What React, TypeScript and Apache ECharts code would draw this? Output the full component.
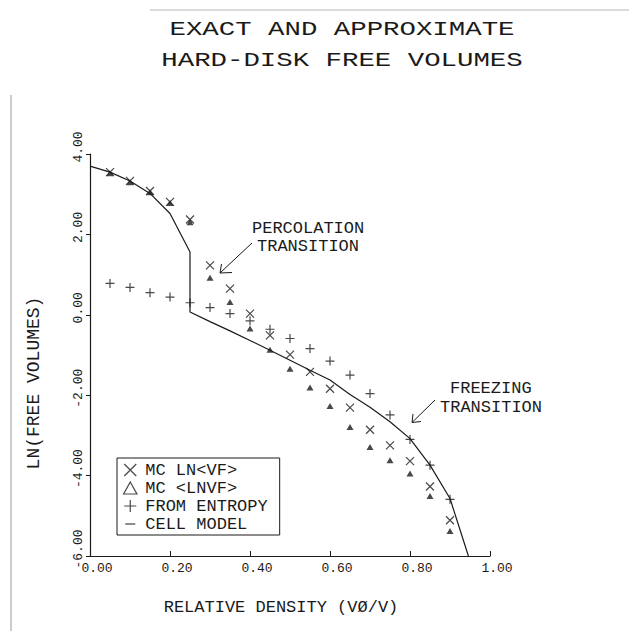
import React, { useEffect, useRef } from "react";
import * as echarts from "echarts";

// Relative density (V0/V) at which the Monte Carlo / entropy points were taken
const densities = [0.05, 0.10, 0.15, 0.20, 0.25, 0.30, 0.35, 0.40, 0.45, 0.50, 0.55, 0.60, 0.65, 0.70, 0.75, 0.80, 0.85, 0.90];
// MC LN<VF>  (x markers)
const mcLnMean = [3.55, 3.33, 3.08, 2.81, 2.37, 1.23, 0.65, 0.03, -0.51, -0.99, -1.42, -1.84, -2.31, -2.86, -3.25, -3.64, -4.27, -5.11];
// MC <LNVF>  (filled triangles)
const mcMeanLn = [3.52, 3.30, 3.05, 2.78, 2.30, 0.92, 0.32, -0.34, -0.87, -1.34, -1.81, -2.27, -2.79, -3.29, -3.62, -3.95, -4.51, -5.38];
// FROM ENTROPY (+ markers)
const fromEntropy = [0.78, 0.68, 0.55, 0.44, 0.30, 0.18, 0.03, -0.15, -0.36, -0.59, -0.84, -1.15, -1.50, -1.96, -2.49, -3.10, -3.74, -4.59];
// CELL MODEL (line)
const cellX = [0, 0.05, 0.10, 0.15, 0.20, 0.25, 0.25, 0.30, 0.35, 0.40, 0.45, 0.50, 0.55, 0.60, 0.65, 0.70, 0.75, 0.80, 0.85, 0.90, 0.946];
const cellY = [3.70, 3.55, 3.33, 3.02, 2.52, 1.56, 0.07, -0.17, -0.40, -0.64, -0.88, -1.13, -1.38, -1.62, -1.98, -2.30, -2.66, -3.08, -3.74, -4.57, -6.00];

const titleLines = ["EXACT AND APPROXIMATE", "HARD-DISK FREE VOLUMES"];
const seriesNames = ["MC LN<VF>", "MC <LNVF>", "FROM ENTROPY", "CELL MODEL"];

const FONT = "'Liberation Mono', 'DejaVu Sans Mono', monospace";
const INK = "#1a1a1a";

const X_PATH = "path://M0,0L10,10M10,0L0,10";
const PLUS_PATH = "path://M5,0L5,10M0,5L10,5";
const TRI_PATH = "path://M5,0L10,9L0,9Z";
const DASH_PATH = "path://M1,5.5L11,5.5L11,6.5L1,6.5Z M0,0L0.01,0L0.01,0.01Z M11.99,11.99L12,11.99L12,12Z";

export default function App() {
  const ref = useRef<HTMLDivElement>(null);

  useEffect(() => {
    if (!ref.current) return;
    const chart = echarts.init(ref.current, null, { renderer: "svg" });

    const pair = (ys: number[]) => densities.map((d, i) => [d, ys[i]]);
    const strokeStyle = { color: "transparent", borderColor: INK, borderWidth: 1.2 };
    const note = (text: string, x: number, y: number) => ({
      type: "text", x, y,
      style: { text, font: `17px ${FONT}`, lineHeight: 16, fill: INK, align: "left", verticalAlign: "middle" },
    });
    const seg = (x1: number, y1: number, x2: number, y2: number) => ({
      type: "line", shape: { x1, y1, x2, y2 }, style: { stroke: INK, lineWidth: 1 },
    });

    chart.setOption({
      animation: false,
      backgroundColor: "#ffffff",
      grid: { left: 90, top: 154, width: 400, height: 402, containLabel: false },
      xAxis: {
        type: "value",
        min: 0,
        max: 1,
        interval: 0.2,
        name: "RELATIVE DENSITY (VØ/V)",
        nameLocation: "middle",
        nameGap: 43,
        nameTextStyle: { fontFamily: FONT, fontSize: 17, color: INK, padding: [0, 18, 0, 0] },
        axisLine: { show: true, onZero: false, lineStyle: { color: INK, width: 1.2 } },
        axisTick: { show: true, inside: true, length: 5, lineStyle: { color: INK } },
        axisLabel: {
          fontFamily: FONT, fontSize: 13, color: INK, margin: 6,
          padding: [0, 0, 0, 14],
          formatter: (v: number) => v.toFixed(2),
        },
        splitLine: { show: false },
      },
      yAxis: {
        type: "value",
        min: -6,
        max: 4,
        interval: 2,
        name: "LN(FREE VOLUMES)",
        nameLocation: "middle",
        nameRotate: 90,
        nameGap: 47,
        nameTextStyle: { fontFamily: FONT, fontSize: 18, color: INK, padding: [0, 56, 0, 0] },
        axisLine: { show: true, onZero: false, lineStyle: { color: INK, width: 1.2 } },
        axisTick: { show: true, inside: false, length: 4, lineStyle: { color: INK } },
        axisLabel: {
          rotate: 90, fontFamily: FONT, fontSize: 13, color: INK, margin: 5,
          padding: [0, 0, 0, 14],
          formatter: (v: number) => v.toFixed(2),
        },
        splitLine: { show: false },
      },
      legend: {
        orient: "vertical",
        left: 117,
        top: 458,
        padding: [3, 12, 2, 6],
        itemGap: 0,
        itemWidth: 14,
        itemHeight: 12,
        borderColor: INK,
        borderWidth: 1,
        backgroundColor: "#ffffff",
        textStyle: { fontFamily: FONT, fontSize: 17, lineHeight: 18, color: INK, padding: [0, 0, 0, 3] },
        data: [
          { name: seriesNames[0], icon: X_PATH, itemStyle: strokeStyle },
          { name: seriesNames[1], icon: TRI_PATH, itemStyle: strokeStyle },
          { name: seriesNames[2], icon: PLUS_PATH, itemStyle: strokeStyle },
          { name: seriesNames[3], icon: DASH_PATH, itemStyle: { color: INK, borderWidth: 0 } },
        ],
      },
      series: [
        {
          name: seriesNames[3],
          type: "line",
          data: cellX.map((x, i) => [x, cellY[i]]),
          showSymbol: false,
          symbol: "none",
          lineStyle: { color: INK, width: 1.2 },
          itemStyle: { color: INK },
          z: 1,
        },
        {
          name: seriesNames[1],
          type: "scatter",
          data: pair(mcMeanLn),
          symbol: "triangle",
          symbolSize: [7, 6],
          itemStyle: { color: INK },
          z: 2,
        },
        {
          name: seriesNames[0],
          type: "scatter",
          data: pair(mcLnMean),
          symbol: X_PATH,
          symbolSize: 8,
          itemStyle: strokeStyle,
          z: 3,
        },
        {
          name: seriesNames[2],
          type: "scatter",
          data: pair(fromEntropy),
          symbol: PLUS_PATH,
          symbolSize: 9,
          itemStyle: strokeStyle,
          z: 3,
        },
      ],
      graphic: [
        // edges of the scanned sheet
        { type: "line", shape: { x1: 11, y1: 95, x2: 11, y2: 631 }, style: { stroke: "#9a9a9a", lineWidth: 1 } },
        { type: "line", shape: { x1: 150, y1: 10, x2: 629, y2: 10 }, style: { stroke: "#b5b5b5", lineWidth: 1 } },
        // title
        {
          type: "text", x: 342, y: 30, scaleX: 1.37,
          style: { text: titleLines[0], font: `20px ${FONT}`, fill: INK, align: "center", verticalAlign: "middle" },
        },
        {
          type: "text", x: 342, y: 61, scaleX: 1.37,
          style: { text: titleLines[1], font: `20px ${FONT}`, fill: INK, align: "center", verticalAlign: "middle" },
        },
        // percolation annotation
        note("PERCOLATION", 252, 228),
        note("TRANSITION", 257, 246),
        seg(252, 243, 220, 273),
        seg(220, 273, 232, 272.5),
        seg(220, 273, 221.5, 264),
        // freezing annotation
        note("FREEZING", 450, 388),
        note("TRANSITION", 440, 407),
        seg(435, 400, 412, 422.5),
        seg(412, 422.5, 421, 421.5),
        seg(412, 422.5, 413, 414),
      ],
    });

    return () => chart.dispose();
  }, []);

  return <div ref={ref} style={{ position: "absolute", left: 0, top: 0, width: 629, height: 631 }} />;
}
